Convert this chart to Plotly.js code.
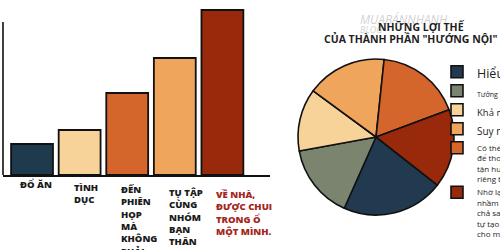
<!DOCTYPE html>
<html><head><meta charset="utf-8">
<script src="https://cdn.plot.ly/plotly-3.0.1.min.js"></script>
<style>html,body{margin:0;padding:0;background:#fff}#chart{width:500px;height:250px}</style>
</head><body><div id="chart"></div>
<script>
// ---- bar chart data ----
const barCategories = ['ĐỔ ĂN', 'TÌNH DỤC', 'ĐẾN PHIÊN HỌP', 'TỤ TẬP', 'VỀ NHÀ'];
const barLabels = [
  'ĐỔ ĂN',
  'TÌNH<br>DỤC',
  'ĐẾN<br>PHIÊN<br>HỌP<br>MÀ<br>KHÔNG<br>PHẢI',
  'TỤ TẬP<br>CÙNG<br>NHÓM<br>BẠN<br>THÂN',
  'VỀ NHÀ,<br>ĐƯỢC CHUI<br>TRONG Ổ<br>MỘT MÌNH.<br><br>MỘT MÌNH'
];
const barValues = [31, 45, 82, 117, 165];
const barColors = ['#1f3a4d', '#f7d399', '#d5662b', '#f0a55c', '#982a0b'];
const barLabelColors = ['#1b1b1b', '#1b1b1b', '#1b1b1b', '#1b1b1b', '#a3271c'];

// ---- pie chart data ----
const pieTitle = ['NHỮNG LỢI THẾ', 'CỦA THÀNH PHẦN "HƯỚNG NỘI"'];
const pieLabels = [
  '<span style="font-size:12.5px">Hiểu mình hơn</span>',
  '<span style="font-size:7px">Tưởng tượng phong phú</span>',
  '<span style="font-size:9.5px">Khả năng tập trung</span>',
  '<span style="font-size:10px">Suy nghĩ sâu sắc</span>',
  'Có thể tự tách mình<br>để thong thả<br>tận hưởng sự<br>riêng tư',
  'Nhờ lạc vào đám đông<br>nhầm chỗ cũng<br>chả sao vì có thể<br>tự tạo niềm vui<br>cho mình'
];
const pieValues = [76, 55.6, 46.7, 59.7, 63.6, 58.4];
const pieColors = ['#213a4f', '#7b846f', '#f7d399', '#f0a55c', '#d5662b', '#982a0b'];

const fontFam = '"Open Sans", "DejaVu Sans", sans-serif';

const traces = [
  {
    type: 'bar',
    x: barCategories,
    y: barValues,
    marker: {color: barColors, line: {color: '#111', width: 1.8}},
    width: 0.88,
    hoverinfo: 'none',
    showlegend: false
  },
  {
    type: 'pie',
    labels: pieLabels,
    values: pieValues,
    marker: {colors: pieColors, line: {color: '#111', width: 1.6}},
    sort: false,
    direction: 'clockwise',
    rotation: 128,
    textinfo: 'none',
    hoverinfo: 'none',
    domain: {x: [0.596, 0.908], y: [0.14, 0.764]},
    showlegend: true
  }
];

const annotations = [];
barLabels.forEach((t, i) => {
  annotations.push({
    x: barCategories[i], xref: 'x', y: 0.296, yref: 'paper',
    xanchor: 'left', yanchor: 'top', align: 'left',
    xshift: i === 0 ? -14 : -8, yshift: -i * 2.5,
    text: t, showarrow: false,
    font: {family: fontFam, size: 9.5, weight: 800, color: barLabelColors[i]}
  });
});
// watermark
annotations.push({x: 0.715, xref: 'paper', y: 0.965, yref: 'paper', xanchor: 'left', yanchor: 'top',
  text: '<i>MUABÁNNHANH</i>', showarrow: false,
  font: {family: fontFam, size: 12, color: 'rgba(150,150,150,0.45)'}});
annotations.push({x: 0.715, xref: 'paper', y: 0.915, yref: 'paper', xanchor: 'left', yanchor: 'top',
  text: '<i>BLOG</i>', showarrow: false,
  font: {family: fontFam, size: 9, color: 'rgba(150,150,150,0.45)'}});
// pie title
annotations.push({x: 0.842, xref: 'paper', y: 0.927, yref: 'paper', xanchor: 'center', yanchor: 'top',
  text: pieTitle[0], showarrow: false,
  font: {family: fontFam, size: 10.5, weight: 700, color: '#1e1e1e'}});
annotations.push({x: 0.644, xref: 'paper', y: 0.882, yref: 'paper', xanchor: 'left', yanchor: 'top',
  text: pieTitle[1], showarrow: false,
  font: {family: fontFam, size: 10.5, weight: 700, color: '#1e1e1e'}});

const layout = {
  width: 500, height: 250,
  margin: {l: 0, r: 0, t: 0, b: 0, autoexpand: false},
  paper_bgcolor: '#fff', plot_bgcolor: 'rgba(0,0,0,0)',
  xaxis: {
    domain: [0.006, 0.54], range: [-0.61, 5.0], type: 'category',
    categoryorder: 'array', categoryarray: barCategories,
    showline: true, linecolor: '#111', linewidth: 1.6,
    showticklabels: false, ticks: '', showgrid: false, zeroline: false, fixedrange: true
  },
  yaxis: {
    domain: [0.3, 0.972], range: [0, 168],
    showline: false, showticklabels: false, ticks: '', showgrid: false, zeroline: false, fixedrange: true
  },
  shapes: [
    {type: 'line', xref: 'paper', yref: 'paper', x0: 0.006, x1: 0.006, y0: 0.3, y1: 0.912,
     line: {color: '#111', width: 1.6}}
  ],
  annotations: annotations,
  showlegend: true,
  legend: {
    x: 0.874, y: 0.76, xanchor: 'left', yanchor: 'top',
    bgcolor: 'rgba(0,0,0,0)', valign: 'top', traceorder: 'normal',
    font: {family: fontFam, size: 8, color: '#1e1e1e'}
  }
};

Plotly.newPlot('chart', traces, layout, {displayModeBar: false, staticPlot: true});
</script>
</body></html>
